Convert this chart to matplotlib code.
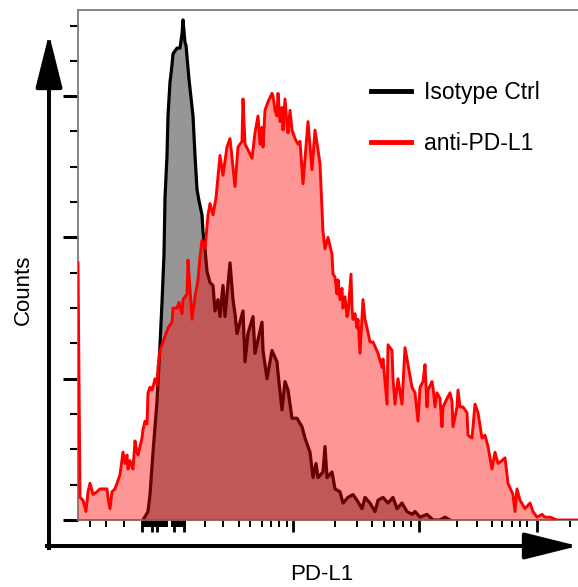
import matplotlib
matplotlib.use("Agg")
import matplotlib.pyplot as plt
import numpy as np

plt.rcParams['font.family'] = ['Liberation Sans', 'DejaVu Sans']

# ---- data (x: display channel, y: counts) ----
iso_x = [65, 70, 72, 75, 79, 82, 84, 86, 87, 89, 90, 92, 94, 95, 99, 102, 104, 105, 107, 108,
         111, 115, 117, 119, 121, 124, 125, 127, 129, 132, 135, 137, 140, 142, 145, 147, 152,
         155, 157, 159, 165, 167, 170, 175, 177, 184, 185, 189, 194, 199, 200, 204, 207, 210,
         214, 219, 224, 227, 232, 235, 238, 240, 245, 247, 249, 254, 257, 262, 265, 270, 275,
         279, 284, 287, 292, 297, 300, 305, 310, 315, 319, 324, 329, 334, 337, 342, 349, 355,
         362, 367, 372]
iso_y = [0, 3, 9, 24, 42, 62, 77, 94, 114, 129, 143, 155, 161, 165, 167, 167, 172, 177, 169, 168,
         156, 143, 129, 117, 113, 108, 102, 96, 88, 84, 83, 74, 78, 72, 83, 72, 91,
         78, 73, 66, 74, 56, 66, 72, 59, 70, 60, 50, 60, 56, 52, 39, 49, 46,
         36, 36, 33, 29, 24, 15, 20, 15, 17, 26, 15, 17, 11, 10, 6, 8, 9,
         7, 4, 8, 6, 3, 7, 8, 6, 8, 4, 6, 3, 2, 3, 1, 2, 0,
         0, 1, 0]

pd_x = [0, 2, 5, 8, 10, 12, 15, 19, 22, 25, 29, 30, 32, 34, 37, 40, 42, 45, 47, 49, 50, 52, 55,
        57, 59, 60, 64, 65, 67, 69, 70, 72, 74, 75, 77, 79, 80, 82, 84, 87, 90, 94, 95, 99, 101,
        104, 105, 109, 110, 112, 114, 117, 120, 122, 124, 127, 130, 132, 135, 138, 142, 145,
        149, 152, 157, 160, 164, 165, 167, 170, 174, 177, 180, 182, 184, 185, 187, 190, 194,
        195, 197, 199, 200, 202, 204, 205, 207, 209, 210, 212, 214, 217, 220, 222, 225, 230,
        234, 237, 240, 242, 245, 247, 250, 254, 255, 257, 259, 260, 262, 264, 265, 267, 269,
        270, 273, 274, 275, 277, 279, 280, 282, 284, 285, 287, 289, 292, 295, 300, 304, 305,
        307, 309, 310, 314, 315, 317, 320, 324, 327, 330, 334, 337, 340, 342, 345, 347, 349,
        350, 354, 355, 357, 359, 362, 364, 365, 369, 372, 374, 375, 379, 380, 382, 385, 389,
        390, 394, 397, 400, 404, 407, 410, 414, 417, 420, 424, 427, 430, 435, 437, 439, 442,
        447, 452, 455, 459, 464, 467, 472, 479, 482, 500]
pd_y = [91, 8, 7, 3, 10, 13, 9, 10, 11, 11, 11, 8, 4, 10, 11, 14, 16, 24, 20, 23, 18, 21, 18,
        28, 24, 23, 29, 32, 35, 34, 45, 47, 46, 47, 50, 48, 54, 60, 62, 65, 68, 70, 75, 75, 77,
        73, 78, 80, 92, 82, 71, 79, 85, 93, 99, 96, 108, 112, 108, 114, 129, 122,
        132, 135, 118, 132, 134, 149, 133, 131, 128, 137, 143, 133, 139, 132, 145, 148, 151,
        150, 145, 143, 151, 141, 146, 138, 149, 140, 137, 145, 138, 135, 133, 134, 119, 141,
        124, 138, 131, 126, 102, 96, 100, 94, 87, 86, 80, 85, 78, 82, 75, 79, 72,
        73, 87, 75, 71, 73, 68, 71, 59, 72, 78, 71, 68, 63, 63, 59, 54, 57,
        49, 41, 62, 60, 50, 41, 50, 41, 61, 55, 47, 45, 35, 47, 49, 55, 40,
        46, 49, 47, 40, 45, 43, 33, 40, 43, 45, 42, 33, 40, 46, 40, 40, 38,
        30, 29, 41, 38, 29, 30, 26, 18, 24, 20, 21, 22, 13, 9, 3, 11, 7,
        4, 6, 3, 1, 2, 1, 1, 0, 0, 0]

labels = ["Isotype Ctrl", "anti-PD-L1"]

y_major = [0, 50, 100, 150]
y_minor = [12.5, 25, 37.5, 62.5, 75, 87.5, 112.5, 125, 137.5, 162.5, 175]
x_major = [64, 74, 79, 96, 106, 215, 341, 459]
x_minor = [12, 28, 46,
           64, 65, 66, 67, 68, 69, 70, 71, 72, 73, 74, 75, 76, 77, 78, 79, 80, 81, 82, 83,
           84, 85, 86, 87, 88, 89,
           94, 95, 96, 97, 98, 99, 100, 101, 102, 103, 104, 105, 106, 107,
           127, 145, 161, 172, 184, 193, 201, 209,
           257, 279, 294, 306, 316, 325, 333,
           379, 399, 414, 424, 434, 442, 449, 492]

# ---- figure ----
W, H = 578, 587
fig = plt.figure(figsize=(W / 100, H / 100), dpi=100)
ax = fig.add_axes([78 / W, (H - 520) / H, 500 / W, 510 / H])

ax.fill_between(iso_x, iso_y, 0, color='#969696', lw=0, zorder=1)
ax.plot(iso_x, iso_y, color='black', lw=2.3, zorder=2, label=labels[0])
ax.fill_between(pd_x, pd_y, 0, color='#ff0000', alpha=0.41, lw=0, zorder=3)
ax.plot(pd_x, pd_y, color='#ff0000', lw=2.1, zorder=4, label=labels[1])

ax.set_xlim(0, 500)
ax.set_ylim(0, 180.5)

ax.set_yticks(y_major)
ax.set_yticks(y_minor, minor=True)
ax.set_xticks(x_major)
ax.set_xticks(x_minor, minor=True)
ax.set_xticklabels([])
ax.set_yticklabels([])
ax.tick_params(axis='y', which='major', length=11, width=2.2, color='black', direction='out')
ax.tick_params(axis='y', which='minor', length=5.5, width=1.5, color='black', direction='out')
ax.tick_params(axis='x', which='major', length=8.5, width=2.0, color='black', direction='out')
ax.tick_params(axis='x', which='minor', length=5, width=1.4, color='black', direction='out')

ax.spines['right'].set_visible(False)
for s in ['top', 'left', 'bottom']:
    ax.spines[s].set_color('#7a7a7a')
    ax.spines[s].set_linewidth(1.3)

leg = ax.legend(loc='center left', bbox_to_anchor=(0.586, 0.788), frameon=False,
                fontsize=16.5, handlelength=1.75, handletextpad=0.55, labelspacing=1.25,
                borderpad=0, borderaxespad=0)
for h in leg.get_lines():
    h.set_linewidth(3.5)

# axis arrows (figure pixels)
arrow_kw = dict(arrowstyle='-|>,head_length=2.2,head_width=0.55', lw=2.9, color='black',
                mutation_scale=15, shrinkA=0, shrinkB=0, capstyle='projecting')
ax.annotate('', xy=(49, H - 34), xytext=(49, H - 548), xycoords='figure pixels',
            textcoords='figure pixels', arrowprops=arrow_kw, annotation_clip=False)
ax.annotate('', xy=(578, H - 546), xytext=(47, H - 546), xycoords='figure pixels',
            textcoords='figure pixels', arrowprops=arrow_kw, annotation_clip=False)

fig.text(23 / W, 1 - 290 / H, 'Counts', rotation=90, ha='center', va='center', fontsize=16)
fig.text(322 / W, 1 - 574 / H, 'PD-L1', ha='center', va='center', fontsize=16)

fig.savefig('out.png', dpi=100)
